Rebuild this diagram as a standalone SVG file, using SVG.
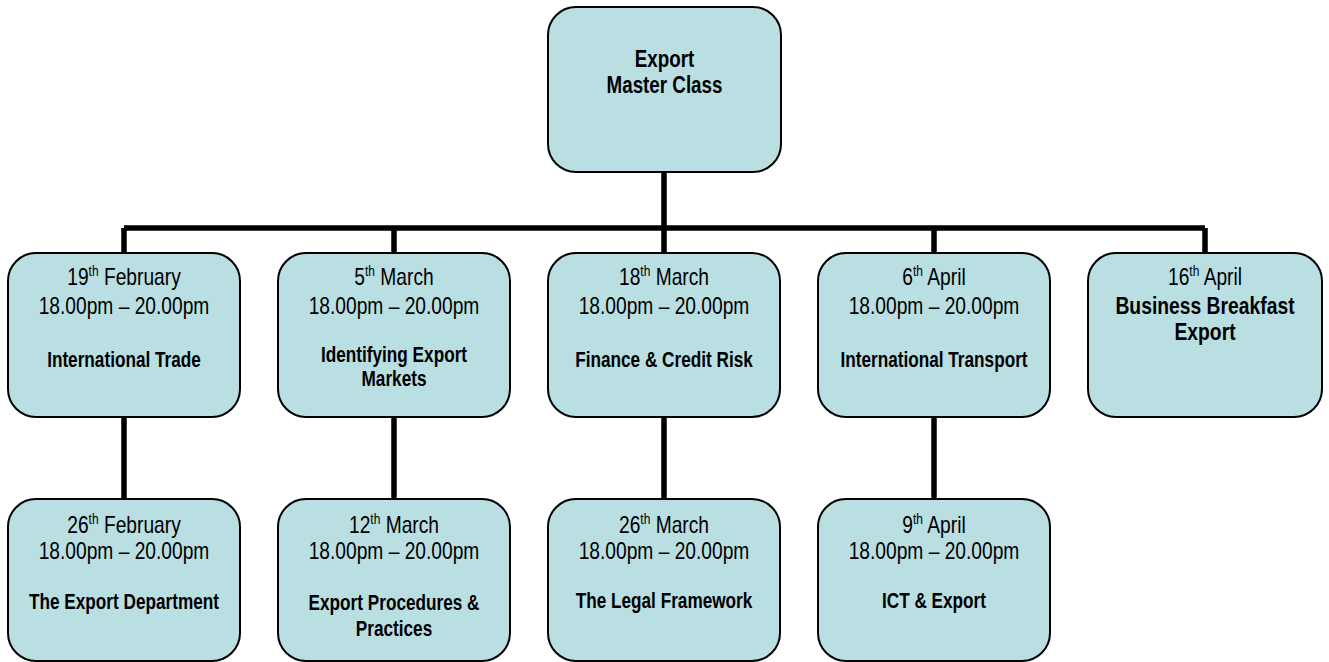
<svg xmlns="http://www.w3.org/2000/svg" width="1329" height="662" viewBox="0 0 1329 662">
<style>
.box{fill:#b9dfe3;stroke:#000;stroke-width:2}
.con{stroke:#000;stroke-width:5.5;fill:none}
text{font-family:"Liberation Sans",Arial,sans-serif;fill:#000;text-anchor:middle}
.r{font-size:24px}
.b{font-size:21.5px;font-weight:bold}
.bb{font-size:23px;font-weight:bold}
.t{font-size:23.5px;font-weight:bold}
.sup{font-size:15px}
</style>
<rect width="1329" height="662" fill="#fff"/>
<g id="connectors">
<path class="con" d="M664 172V228M124 228H1205M124 228V253M394 228V253M664 228V253M934 228V253M1205 228V253"/>
<path class="con" d="M124 417V499M394 417V499M664 417V499M934 417V499"/>
</g>
<g id="n-top">
<rect class="box" x="548" y="7" width="233" height="165" rx="28"/>
<g transform="translate(664.5,0) scale(0.8,1)">
<text class="t" x="0" y="67">Export</text>
<text class="t" x="0" y="93">Master Class</text>
</g>
</g>
<g id="n-19feb">
<rect class="box" x="8" y="253" width="232" height="164" rx="28"/>
<g transform="translate(124,0) scale(0.8,1)">
<text class="r" x="0" y="285">19<tspan class="sup" dy="-9">th</tspan><tspan dy="9"> February</tspan></text>
<text class="r" x="0" y="314">18.00pm – 20.00pm</text>
<text class="b" x="0" y="367">International Trade</text>
</g>
</g>
<g id="n-5mar">
<rect class="box" x="278" y="253" width="232" height="164" rx="28"/>
<g transform="translate(394,0) scale(0.8,1)">
<text class="r" x="0" y="285">5<tspan class="sup" dy="-9">th</tspan><tspan dy="9"> March</tspan></text>
<text class="r" x="0" y="314">18.00pm – 20.00pm</text>
<text class="b" x="0" y="362">Identifying Export</text>
<text class="b" x="0" y="386">Markets</text>
</g>
</g>
<g id="n-18mar">
<rect class="box" x="548" y="253" width="232" height="164" rx="28"/>
<g transform="translate(664,0) scale(0.8,1)">
<text class="r" x="0" y="285">18<tspan class="sup" dy="-9">th</tspan><tspan dy="9"> March</tspan></text>
<text class="r" x="0" y="314">18.00pm – 20.00pm</text>
<text class="b" x="0" y="367">Finance &amp; Credit Risk</text>
</g>
</g>
<g id="n-6apr">
<rect class="box" x="818" y="253" width="232" height="164" rx="28"/>
<g transform="translate(934,0) scale(0.8,1)">
<text class="r" x="0" y="285">6<tspan class="sup" dy="-9">th</tspan><tspan dy="9"> April</tspan></text>
<text class="r" x="0" y="314">18.00pm – 20.00pm</text>
<text class="b" x="0" y="367">International Transport</text>
</g>
</g>
<g id="n-16apr">
<rect class="box" x="1088" y="253" width="234" height="164" rx="28"/>
<g transform="translate(1205,0) scale(0.84,1)">
<text class="r" x="0" y="285" transform="scale(0.952,1)">16<tspan class="sup" dy="-9">th</tspan><tspan dy="9"> April</tspan></text>
<text class="bb" x="0" y="314">Business Breakfast</text>
<text class="bb" x="0" y="340">Export</text>
</g>
</g>
<g id="n-26feb">
<rect class="box" x="8" y="499" width="232" height="162" rx="28"/>
<g transform="translate(124,0) scale(0.8,1)">
<text class="r" x="0" y="533">26<tspan class="sup" dy="-9">th</tspan><tspan dy="9"> February</tspan></text>
<text class="r" x="0" y="559">18.00pm – 20.00pm</text>
<text class="b" x="0" y="609">The Export Department</text>
</g>
</g>
<g id="n-12mar">
<rect class="box" x="278" y="499" width="232" height="162" rx="28"/>
<g transform="translate(394,0) scale(0.8,1)">
<text class="r" x="0" y="533">12<tspan class="sup" dy="-9">th</tspan><tspan dy="9"> March</tspan></text>
<text class="r" x="0" y="559">18.00pm – 20.00pm</text>
<text class="b" x="0" y="610">Export Procedures &amp;</text>
<text class="b" x="0" y="636">Practices</text>
</g>
</g>
<g id="n-26mar">
<rect class="box" x="548" y="499" width="232" height="162" rx="28"/>
<g transform="translate(664,0) scale(0.8,1)">
<text class="r" x="0" y="533">26<tspan class="sup" dy="-9">th</tspan><tspan dy="9"> March</tspan></text>
<text class="r" x="0" y="559">18.00pm – 20.00pm</text>
<text class="b" x="0" y="608">The Legal Framework</text>
</g>
</g>
<g id="n-9apr">
<rect class="box" x="818" y="499" width="232" height="162" rx="28"/>
<g transform="translate(934,0) scale(0.8,1)">
<text class="r" x="0" y="533">9<tspan class="sup" dy="-9">th</tspan><tspan dy="9"> April</tspan></text>
<text class="r" x="0" y="559">18.00pm – 20.00pm</text>
<text class="b" x="0" y="608">ICT &amp; Export</text>
</g>
</g>
</svg>
